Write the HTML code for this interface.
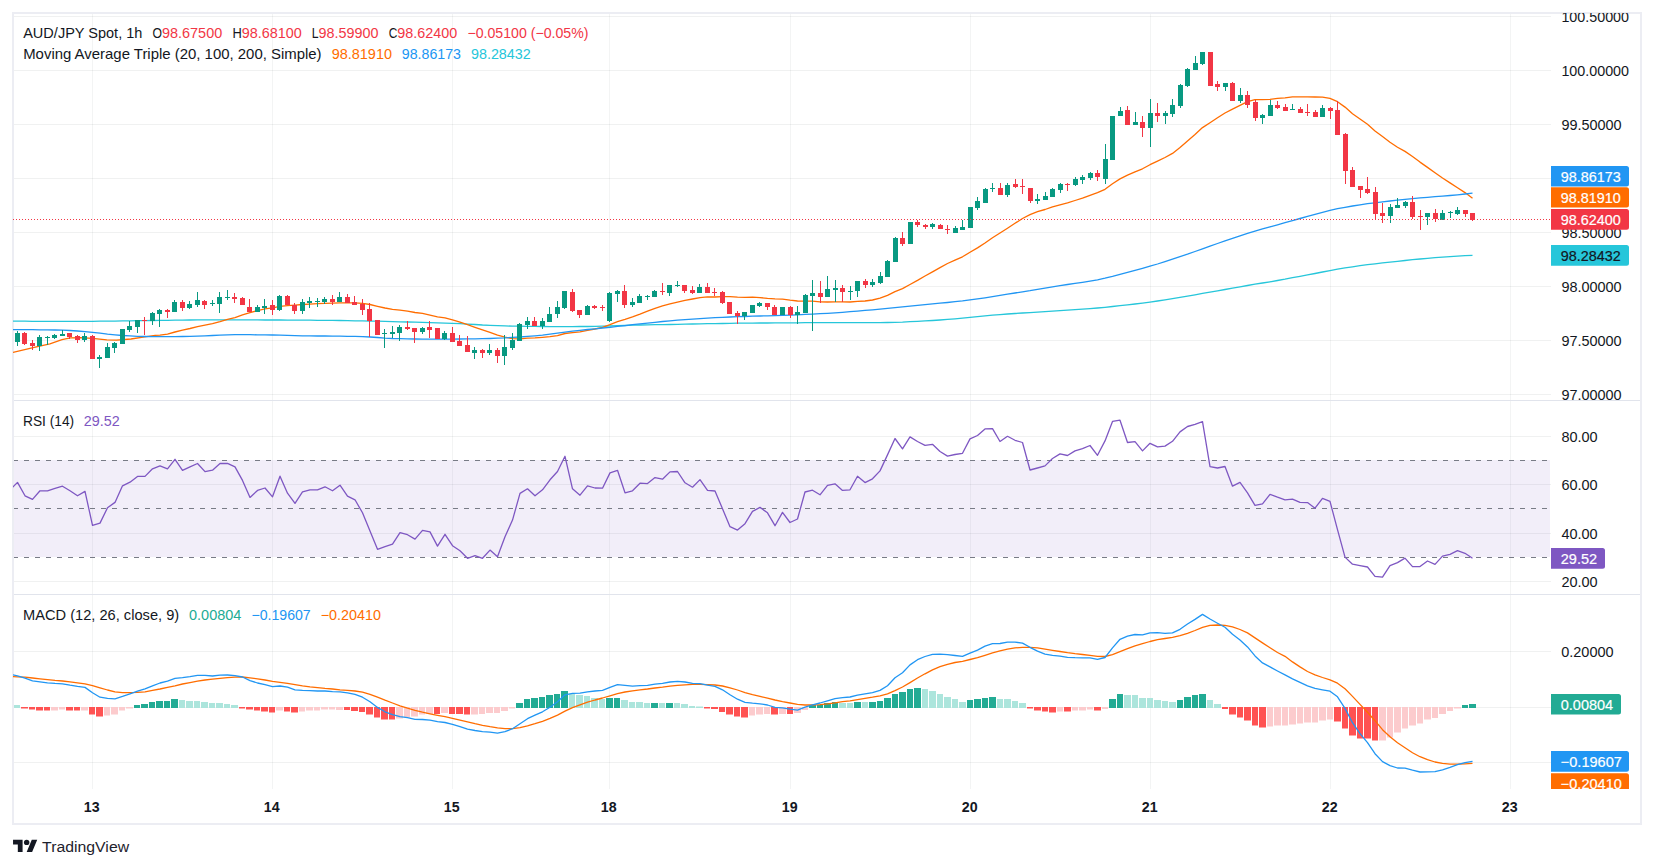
<!DOCTYPE html>
<html lang="en"><head><meta charset="utf-8"><title>AUD/JPY Spot, 1h - TradingView</title>
<style>html,body{margin:0;padding:0;background:#fff;}svg text{font-family:"Liberation Sans","DejaVu Sans",sans-serif;}body{width:1654px;height:868px;overflow:hidden;}</style></head>
<body>
<svg width="1654" height="868" viewBox="0 0 1654 868" style="display:block">
<rect width="1654" height="868" fill="#fff"/>
<defs><clipPath id="cpMain"><rect x="13" y="13" width="1538" height="387"/></clipPath><clipPath id="cpRsi"><rect x="13" y="401" width="1538" height="193"/></clipPath><clipPath id="cpMacd"><rect x="13" y="595" width="1538" height="194"/></clipPath><clipPath id="cpMacdAxis"><rect x="1551" y="595" width="90" height="194"/></clipPath><clipPath id="cpMainAxis"><rect x="1551" y="13" width="90" height="387"/></clipPath></defs>
<path d="M92.5 14V789M272.5 14V789M452.5 14V789M609.5 14V789M790.5 14V789M970.5 14V789M1150.5 14V789M1330.5 14V789M1510.5 14V789" stroke="#1c2a2a" stroke-opacity="0.05" stroke-width="1" fill="none"/>
<path d="M13 16.5H1551M13 70.5H1551M13 124.5H1551M13 178.5H1551M13 232.5H1551M13 286.5H1551M13 340.5H1551M13 394.5H1551M13 436.5H1551M13 484.5H1551M13 533.5H1551M13 581.5H1551M13 651.5H1551M13 707.5H1551M13 762.5H1551" stroke="#1c2a2a" stroke-opacity="0.065" stroke-width="1" fill="none"/>
<rect x="13" y="460" width="1537" height="97" fill="#7e57c2" fill-opacity="0.1"/>
<path d="M13 460.5H1551" stroke="#787b86" stroke-width="1" stroke-dasharray="5 6" fill="none"/>
<path d="M13 508.5H1551" stroke="#787b86" stroke-width="1" stroke-dasharray="5 6" fill="none"/>
<path d="M13 557.5H1551" stroke="#787b86" stroke-width="1" stroke-dasharray="5 6" fill="none"/>
<path d="M13 400.5H1641M13 594.5H1641" stroke="#e1e4ec" stroke-width="1" fill="none"/>
<rect x="13" y="13" width="1628" height="811" fill="none" stroke="#ecedf3" stroke-width="2"/>
<g clip-path="url(#cpRsi)">
<polyline points="10.0,489.8 17.5,482.4 25.0,495.8 32.5,499.4 40.0,490.8 47.5,490.8 55.0,488.4 62.5,486.2 70.0,490.8 77.5,495.8 85.0,491.4 92.5,525.3 100.0,523.1 107.5,507.8 115.0,502.4 122.5,485.8 130.0,482.2 137.5,476.4 145.0,476.4 152.5,468.8 160.0,465.9 167.5,468.8 175.0,459.3 182.5,470.4 190.0,466.9 197.5,463.5 205.0,471.6 212.5,470.2 220.0,463.5 227.5,463.3 235.0,466.9 242.5,480.4 250.0,497.4 257.5,490.4 265.0,488.0 272.5,496.8 280.0,476.2 287.5,493.2 295.0,503.4 302.5,491.8 310.0,489.8 317.5,489.8 325.0,486.8 332.5,490.8 340.0,485.2 347.5,496.2 355.0,499.8 362.5,512.8 370.0,531.1 377.5,549.3 385.0,546.7 392.5,544.1 400.0,532.7 407.5,534.7 415.0,539.1 422.5,530.3 430.0,531.9 437.5,546.1 445.0,534.3 452.5,545.7 460.0,550.7 467.5,558.3 475.0,555.7 482.5,558.3 490.0,550.1 497.5,556.7 505.0,536.7 512.5,520.1 520.0,493.4 527.5,488.8 535.0,495.8 542.5,489.8 550.0,479.8 557.5,471.5 565.0,456.3 572.5,488.8 580.0,495.2 587.5,485.8 595.0,488.0 602.5,488.2 610.0,472.9 617.5,470.3 625.0,492.8 632.5,490.8 640.0,483.2 647.5,483.6 655.0,477.6 662.5,479.2 670.0,471.9 677.5,471.5 685.0,482.8 692.5,487.2 700.0,479.6 707.5,490.4 715.0,491.0 722.5,508.8 730.0,526.7 737.5,530.1 745.0,523.7 752.5,511.4 760.0,507.4 767.5,512.8 775.0,525.7 782.5,512.4 790.0,522.5 797.5,519.0 805.0,492.0 812.5,490.2 820.0,494.8 827.5,485.4 835.0,483.8 842.5,490.4 850.0,489.8 857.5,476.3 865.0,482.6 872.5,478.8 880.0,470.9 887.5,454.9 895.0,438.5 902.5,448.9 910.0,436.9 917.5,441.5 925.0,445.3 932.5,444.3 940.0,451.5 947.5,456.1 955.0,454.5 962.5,453.3 970.0,438.9 977.5,435.5 985.0,428.9 992.5,428.7 1000.0,441.5 1007.5,436.3 1015.0,440.3 1022.5,442.5 1030.0,470.0 1037.5,468.0 1045.0,465.9 1052.5,458.5 1060.0,453.9 1067.5,455.5 1075.0,450.9 1082.5,448.7 1090.0,445.5 1097.5,455.3 1105.0,440.9 1112.5,421.4 1120.0,420.2 1127.5,442.5 1135.0,441.7 1142.5,450.9 1150.0,443.3 1157.5,446.9 1165.0,446.1 1172.5,441.3 1180.0,431.9 1187.5,426.5 1195.0,424.4 1202.5,421.6 1210.0,466.7 1217.5,468.0 1225.0,466.5 1232.5,486.2 1240.0,482.4 1247.5,492.8 1255.0,505.4 1262.5,503.8 1270.0,494.4 1277.5,497.2 1285.0,499.8 1292.5,499.2 1300.0,502.4 1307.5,502.6 1315.0,508.2 1322.5,498.4 1330.0,501.4 1337.5,529.7 1345.0,557.1 1352.5,564.2 1360.0,565.6 1367.5,567.0 1375.0,576.4 1382.5,577.2 1390.0,565.6 1397.5,562.6 1405.0,558.1 1412.5,566.6 1420.0,566.6 1427.5,561.0 1435.0,564.4 1442.5,556.1 1450.0,554.3 1457.5,550.7 1465.0,553.3 1472.5,558.3" fill="none" stroke="#7e57c2" stroke-width="1.3" stroke-linejoin="round"/>
</g>
<g clip-path="url(#cpMacd)">
<path d="M14 705.0H20V708.0H14zM179 700.0H185V708.0H179zM186 701.0H193V708.0H186zM194 701.0H200V708.0H194zM201 702.0H208V708.0H201zM209 703.0H215V708.0H209zM216 703.0H223V708.0H216zM224 704.0H230V708.0H224zM231 705.0H238V708.0H231zM569 694.0H575V708.0H569zM576 695.0H583V708.0H576zM584 696.0H590V708.0H584zM591 698.0H598V708.0H591zM599 699.0H605V708.0H599zM621 700.0H628V708.0H621zM629 702.0H635V708.0H629zM636 702.0H643V708.0H636zM644 703.0H650V708.0H644zM659 703.0H665V708.0H659zM674 703.0H680V708.0H674zM681 704.0H688V708.0H681zM689 706.0H695V708.0H689zM696 706.5H703V708.0H696zM839 703.0H846V708.0H839zM847 703.0H853V708.0H847zM862 702.0H868V708.0H862zM922 689.0H928V708.0H922zM929 691.0H936V708.0H929zM937 694.0H943V708.0H937zM944 697.0H951V708.0H944zM952 699.0H958V708.0H952zM959 702.0H966V708.0H959zM997 699.0H1003V708.0H997zM1004 699.0H1011V708.0H1004zM1012 701.0H1018V708.0H1012zM1019 703.0H1026V708.0H1019zM1124 695.0H1131V708.0H1124zM1132 695.0H1138V708.0H1132zM1139 698.0H1146V708.0H1139zM1147 698.0H1153V708.0H1147zM1154 700.0H1161V708.0H1154zM1162 701.0H1168V708.0H1162zM1169 702.0H1176V708.0H1169zM1207 700.0H1213V708.0H1207zM1214 704.0H1221V708.0H1214z" fill="#ace5dc"/>
<path d="M21 707.1H28V708.6H21zM29 707.0H35V709.5H29zM36 707.0H43V710.5H36zM44 707.0H50V710.5H44zM66 707.0H73V710.5H66zM74 707.0H80V710.5H74zM89 707.0H95V714.5H89zM96 707.0H103V716.5H96zM239 707.1H245V708.6H239zM246 707.0H253V709.5H246zM254 707.0H260V710.5H254zM261 707.0H268V711.5H261zM269 707.0H275V712.5H269zM284 707.0H290V711.5H284zM291 707.0H298V712.5H291zM344 707.0H350V710.0H344zM351 707.0H358V711.0H351zM359 707.0H365V712.0H359zM366 707.0H373V714.5H366zM374 707.0H380V717.5H374zM381 707.0H388V719.5H381zM389 707.0H395V719.5H389zM434 707.0H440V714.0H434zM449 707.0H455V714.0H449zM456 707.0H463V714.0H456zM464 707.0H470V714.5H464zM704 707.1H710V708.6H704zM711 707.0H718V709.0H711zM719 707.0H725V712.0H719zM726 707.0H733V714.5H726zM734 707.0H740V716.5H734zM741 707.0H748V717.5H741zM771 707.0H778V714.5H771zM787 707.0H793V714.0H787zM1027 707.1H1033V708.6H1027zM1034 707.0H1041V710.5H1034zM1042 707.0H1048V711.5H1042zM1049 707.0H1056V712.5H1049zM1064 707.0H1071V711.5H1064zM1094 707.0H1101V710.5H1094zM1222 707.0H1228V709.0H1222zM1229 707.0H1236V714.5H1229zM1237 707.0H1243V717.5H1237zM1244 707.0H1251V720.5H1244zM1252 707.0H1258V725.5H1252zM1259 707.0H1266V727.5H1259zM1334 707.0H1341V721.5H1334zM1342 707.0H1348V728.5H1342zM1349 707.0H1356V735.5H1349zM1357 707.0H1363V738.5H1357zM1364 707.0H1371V738.5H1364zM1372 707.0H1378V740.5H1372z" fill="#ff5252"/>
<path d="M51 707.0H58V710.5H51zM59 707.0H65V709.5H59zM81 707.0H88V710.5H81zM104 707.0H110V715.5H104zM111 707.0H118V714.5H111zM119 707.0H125V710.5H119zM126 707.1H133V708.6H126zM276 707.0H283V710.5H276zM299 707.0H305V711.5H299zM306 707.0H313V710.5H306zM314 707.0H320V710.5H314zM321 707.0H328V709.5H321zM329 707.0H335V709.5H329zM336 707.0H343V710.0H336zM396 707.0H403V718.5H396zM404 707.0H410V717.5H404zM411 707.0H418V716.5H411zM419 707.0H425V714.5H419zM426 707.0H433V714.0H426zM441 707.0H448V713.0H441zM471 707.0H478V714.5H471zM479 707.0H485V714.0H479zM486 707.0H493V713.0H486zM494 707.0H500V713.0H494zM501 707.0H508V711.0H501zM509 707.1H515V708.6H509zM749 707.0H755V715.5H749zM756 707.0H763V714.5H756zM764 707.0H770V714.0H764zM779 707.0H786V714.0H779zM794 707.0H801V713.0H794zM802 707.0H808V710.0H802zM1057 707.0H1063V711.5H1057zM1072 707.0H1078V710.5H1072zM1079 707.0H1086V710.5H1079zM1087 707.0H1093V709.5H1087zM1102 707.0H1108V709.0H1102zM1267 707.0H1273V726.5H1267zM1274 707.0H1281V725.5H1274zM1282 707.0H1288V725.5H1282zM1289 707.0H1296V724.5H1289zM1297 707.0H1303V723.5H1297zM1304 707.0H1311V722.5H1304zM1312 707.0H1318V722.5H1312zM1319 707.0H1326V720.5H1319zM1327 707.0H1333V719.5H1327zM1379 707.0H1386V740.5H1379zM1387 707.0H1393V737.5H1387zM1394 707.0H1401V732.5H1394zM1402 707.0H1408V728.5H1402zM1409 707.0H1416V725.5H1409zM1417 707.0H1423V723.5H1417zM1424 707.0H1431V719.5H1424zM1432 707.0H1438V718.0H1432zM1439 707.0H1446V714.0H1439zM1447 707.0H1453V711.0H1447zM1454 707.1H1461V708.6H1454z" fill="#fccbcd"/>
<path d="M134 705.0H140V708.0H134zM141 704.0H148V708.0H141zM149 702.0H155V708.0H149zM156 701.0H163V708.0H156zM164 701.0H170V708.0H164zM171 699.0H178V708.0H171zM516 703.0H523V708.0H516zM524 699.0H530V708.0H524zM531 698.0H538V708.0H531zM539 697.0H545V708.0H539zM546 695.0H553V708.0H546zM554 694.0H560V708.0H554zM561 691.0H568V708.0H561zM606 698.0H613V708.0H606zM614 698.0H620V708.0H614zM651 703.0H658V708.0H651zM666 703.0H673V708.0H666zM809 705.0H816V708.0H809zM817 705.0H823V708.0H817zM824 703.0H831V708.0H824zM832 702.0H838V708.0H832zM854 702.0H861V708.0H854zM869 702.0H876V708.0H869zM877 701.0H883V708.0H877zM884 698.0H891V708.0H884zM892 694.0H898V708.0H892zM899 692.0H906V708.0H899zM907 689.0H913V708.0H907zM914 688.0H921V708.0H914zM967 700.0H973V708.0H967zM974 699.0H981V708.0H974zM982 698.0H988V708.0H982zM989 697.0H996V708.0H989zM1109 699.0H1116V708.0H1109zM1117 694.0H1123V708.0H1117zM1177 700.0H1183V708.0H1177zM1184 697.0H1191V708.0H1184zM1192 695.0H1198V708.0H1192zM1199 694.0H1206V708.0H1199zM1462 705.0H1468V708.0H1462zM1469 704.0H1476V708.0H1469z" fill="#22ab94"/>
<polyline points="10.0,676.4 17.5,676.8 25.0,677.2 32.5,678.0 40.0,678.8 47.5,679.6 55.0,680.4 62.5,681.0 70.0,681.8 77.5,682.8 85.0,683.8 92.5,685.6 100.0,687.8 107.5,690.0 115.0,691.8 122.5,692.6 130.0,692.6 137.5,692.4 145.0,691.8 152.5,690.4 160.0,689.0 167.5,687.4 175.0,685.8 182.5,684.0 190.0,682.6 197.5,681.2 205.0,680.0 212.5,679.2 220.0,678.4 227.5,677.6 235.0,677.2 242.5,677.0 250.0,677.8 257.5,678.8 265.0,680.0 272.5,681.4 280.0,682.4 287.5,683.4 295.0,684.6 302.5,685.8 310.0,686.8 317.5,687.6 325.0,688.4 332.5,689.0 340.0,689.8 347.5,690.4 355.0,691.0 362.5,692.2 370.0,694.4 377.5,697.2 385.0,700.2 392.5,703.0 400.0,705.8 407.5,708.2 415.0,710.4 422.5,712.2 430.0,713.8 437.5,715.3 445.0,716.7 452.5,718.3 460.0,720.1 467.5,721.9 475.0,723.7 482.5,725.3 490.0,726.7 497.5,727.9 505.0,728.7 512.5,728.7 520.0,727.7 527.5,725.9 535.0,723.7 542.5,721.3 550.0,718.3 557.5,715.1 565.0,711.2 572.5,707.6 580.0,704.8 587.5,702.2 595.0,700.0 602.5,698.0 610.0,695.8 617.5,693.6 625.0,692.0 632.5,690.8 640.0,689.8 647.5,689.0 655.0,688.0 662.5,687.2 670.0,686.2 677.5,685.4 685.0,684.8 692.5,684.4 700.0,684.4 707.5,684.6 715.0,685.0 722.5,686.0 730.0,687.8 737.5,690.0 745.0,692.6 752.5,694.6 760.0,696.4 767.5,698.2 775.0,700.0 782.5,701.6 790.0,703.0 797.5,704.4 805.0,705.0 812.5,705.0 820.0,704.6 827.5,703.8 835.0,702.8 842.5,701.6 850.0,700.8 857.5,699.6 865.0,698.4 872.5,697.2 880.0,695.8 887.5,693.8 895.0,690.6 902.5,687.0 910.0,682.6 917.5,678.0 925.0,673.8 932.5,669.9 940.0,666.7 947.5,664.3 955.0,662.5 962.5,661.3 970.0,659.5 977.5,657.7 985.0,655.3 992.5,652.9 1000.0,650.9 1007.5,649.1 1015.0,647.9 1022.5,647.3 1030.0,647.3 1037.5,647.9 1045.0,649.1 1052.5,650.3 1060.0,651.5 1067.5,652.7 1075.0,653.7 1082.5,654.5 1090.0,655.3 1097.5,656.3 1105.0,656.5 1112.5,654.7 1120.0,651.7 1127.5,648.7 1135.0,645.9 1142.5,643.7 1150.0,641.5 1157.5,639.7 1165.0,638.5 1172.5,637.3 1180.0,635.7 1187.5,633.3 1195.0,630.5 1202.5,627.3 1210.0,625.4 1217.5,625.0 1225.0,625.4 1232.5,626.9 1240.0,629.5 1247.5,632.9 1255.0,637.9 1262.5,642.9 1270.0,647.7 1277.5,652.5 1285.0,656.3 1292.5,661.9 1300.0,666.9 1307.5,671.5 1315.0,674.9 1322.5,677.5 1330.0,679.8 1337.5,683.2 1345.0,688.8 1352.5,696.4 1360.0,704.4 1367.5,712.2 1375.0,720.7 1382.5,729.7 1390.0,736.7 1397.5,742.7 1405.0,747.7 1412.5,752.7 1420.0,756.7 1427.5,759.7 1435.0,762.0 1442.5,763.4 1450.0,764.2 1457.5,764.2 1465.0,763.8 1472.5,763.4" fill="none" stroke="#ff6d00" stroke-width="1.3" stroke-linejoin="round"/>
<polyline points="10.0,674.2 17.5,675.8 25.0,678.2 32.5,680.8 40.0,681.8 47.5,682.8 55.0,683.4 62.5,683.8 70.0,685.2 77.5,686.4 85.0,687.4 92.5,692.8 100.0,697.2 107.5,698.4 115.0,698.8 122.5,696.4 130.0,693.8 137.5,691.2 145.0,688.8 152.5,685.8 160.0,683.0 167.5,681.2 175.0,678.4 182.5,677.6 190.0,676.6 197.5,675.4 205.0,675.4 212.5,676.0 220.0,675.2 227.5,675.0 235.0,675.6 242.5,677.0 250.0,680.6 257.5,683.0 265.0,684.6 272.5,686.6 280.0,686.0 287.5,687.2 295.0,689.8 302.5,690.4 310.0,690.6 317.5,691.0 325.0,691.0 332.5,691.6 340.0,691.8 347.5,692.8 355.0,694.4 362.5,697.2 370.0,701.8 377.5,707.4 385.0,711.8 392.5,714.7 400.0,716.7 407.5,717.7 415.0,719.3 422.5,719.5 430.0,720.1 437.5,721.7 445.0,722.5 452.5,724.3 460.0,726.7 467.5,729.1 475.0,730.5 482.5,731.7 490.0,732.1 497.5,733.1 505.0,731.7 512.5,728.7 520.0,723.7 527.5,718.7 535.0,715.1 542.5,711.8 550.0,707.2 557.5,701.8 565.0,694.8 572.5,693.4 580.0,693.2 587.5,691.8 595.0,691.0 602.5,690.4 610.0,687.4 617.5,684.6 625.0,685.4 632.5,686.2 640.0,685.6 647.5,685.4 655.0,684.2 662.5,683.4 670.0,682.0 677.5,681.4 685.0,682.0 692.5,683.4 700.0,683.6 707.5,685.2 715.0,686.4 722.5,689.8 730.0,694.8 737.5,699.2 745.0,702.4 752.5,703.2 760.0,703.8 767.5,705.0 775.0,707.4 782.5,707.8 790.0,709.2 797.5,710.2 805.0,707.2 812.5,704.8 820.0,703.0 827.5,700.8 835.0,698.6 842.5,697.6 850.0,697.0 857.5,695.2 865.0,693.8 872.5,692.6 880.0,690.4 887.5,685.8 895.0,677.8 902.5,672.8 910.0,664.9 917.5,659.7 925.0,656.5 932.5,654.3 940.0,654.1 947.5,654.7 955.0,655.5 962.5,656.3 970.0,653.1 977.5,650.1 985.0,646.1 992.5,643.7 1000.0,643.5 1007.5,642.1 1015.0,642.1 1022.5,643.1 1030.0,647.3 1037.5,651.1 1045.0,654.1 1052.5,655.3 1060.0,656.1 1067.5,657.3 1075.0,657.7 1082.5,657.9 1090.0,657.9 1097.5,659.3 1105.0,657.5 1112.5,647.9 1120.0,639.3 1127.5,636.1 1135.0,634.5 1142.5,634.9 1150.0,632.9 1157.5,632.7 1165.0,633.3 1172.5,632.9 1180.0,629.3 1187.5,624.0 1195.0,619.4 1202.5,614.4 1210.0,619.0 1217.5,623.2 1225.0,627.3 1232.5,634.3 1240.0,639.9 1247.5,646.9 1255.0,655.9 1262.5,662.9 1270.0,666.9 1277.5,671.0 1285.0,674.9 1292.5,678.8 1300.0,682.4 1307.5,685.8 1315.0,688.4 1322.5,689.8 1330.0,691.2 1337.5,696.8 1345.0,708.4 1352.5,722.7 1360.0,733.7 1367.5,742.7 1375.0,753.7 1382.5,761.6 1390.0,765.6 1397.5,768.0 1405.0,768.2 1412.5,770.2 1420.0,772.0 1427.5,771.8 1435.0,771.6 1442.5,769.8 1450.0,767.4 1457.5,764.6 1465.0,762.6 1472.5,761.4" fill="none" stroke="#2196f3" stroke-width="1.3" stroke-linejoin="round"/>
</g>
<g clip-path="url(#cpMain)">
<polyline points="13.0,321.2 17.5,321.2 25.0,321.2 32.5,321.3 40.0,321.3 47.5,321.3 55.0,321.3 62.5,321.3 70.0,321.3 77.5,321.3 85.0,321.3 92.5,321.3 100.0,321.2 107.5,321.2 115.0,321.1 122.5,320.9 130.0,320.8 137.5,320.7 145.0,320.6 152.5,320.5 160.0,320.4 167.5,320.3 175.0,320.2 182.5,320.1 190.0,320.0 197.5,319.9 205.0,319.8 212.5,319.8 220.0,319.8 227.5,319.8 235.0,319.8 242.5,319.9 250.0,319.9 257.5,319.9 265.0,320.0 272.5,320.0 280.0,320.0 287.5,320.1 295.0,320.1 302.5,320.2 310.0,320.2 317.5,320.3 325.0,320.3 332.5,320.4 340.0,320.5 347.5,320.6 355.0,320.8 362.5,320.9 370.0,321.1 377.5,321.2 385.0,321.4 392.5,321.6 400.0,321.8 407.5,322.0 415.0,322.2 422.5,322.4 430.0,322.6 437.5,322.8 445.0,323.1 452.5,323.4 460.0,323.7 467.5,324.1 475.0,324.5 482.5,325.0 490.0,325.3 497.5,325.6 505.0,325.9 512.5,326.1 520.0,326.2 527.5,326.3 535.0,326.4 542.5,326.5 550.0,326.6 557.5,326.6 565.0,326.6 572.5,326.6 580.0,326.5 587.5,326.5 595.0,326.4 602.5,326.2 610.0,326.0 617.5,325.7 625.0,325.5 632.5,325.2 640.0,325.0 647.5,324.9 655.0,324.7 662.5,324.6 670.0,324.5 677.5,324.4 685.0,324.2 692.5,324.0 700.0,323.9 707.5,323.7 715.0,323.6 722.5,323.5 730.0,323.3 737.5,323.2 745.0,323.2 752.5,323.1 760.0,323.0 767.5,323.0 775.0,322.9 782.5,322.9 790.0,322.8 797.5,322.8 805.0,322.7 812.5,322.7 820.0,322.7 827.5,322.7 835.0,322.7 842.5,322.7 850.0,322.7 857.5,322.7 865.0,322.7 872.5,322.6 880.0,322.6 887.5,322.5 895.0,322.3 902.5,322.1 910.0,321.7 917.5,321.3 925.0,320.9 932.5,320.5 940.0,320.0 947.5,319.4 955.0,318.8 962.5,318.1 970.0,317.4 977.5,316.7 985.0,315.9 992.5,315.2 1000.0,314.6 1007.5,314.0 1015.0,313.5 1022.5,313.0 1030.0,312.6 1037.5,312.1 1045.0,311.6 1052.5,311.2 1060.0,310.7 1067.5,310.2 1075.0,309.7 1082.5,309.2 1090.0,308.6 1097.5,308.0 1105.0,307.3 1112.5,306.5 1120.0,305.7 1127.5,304.8 1135.0,304.0 1142.5,303.1 1150.0,302.1 1157.5,301.0 1165.0,299.8 1172.5,298.6 1180.0,297.3 1187.5,296.1 1195.0,294.8 1202.5,293.4 1210.0,292.1 1217.5,290.8 1225.0,289.5 1232.5,288.1 1240.0,286.8 1247.5,285.5 1255.0,284.2 1262.5,283.0 1270.0,281.8 1277.5,280.5 1285.0,279.2 1292.5,277.7 1300.0,276.3 1307.5,274.9 1315.0,273.5 1322.5,272.0 1330.0,270.6 1337.5,269.2 1345.0,267.9 1352.5,266.8 1360.0,265.7 1367.5,264.7 1375.0,263.8 1382.5,262.9 1390.0,262.1 1397.5,261.3 1405.0,260.5 1412.5,259.7 1420.0,259.0 1427.5,258.3 1435.0,257.7 1442.5,257.2 1450.0,256.7 1457.5,256.2 1465.0,255.7 1472.5,255.3" fill="none" stroke="#26c6da" stroke-width="1.3" stroke-linejoin="round"/>
<polyline points="13.0,352.4 34.2,347.4 49.9,343.8 62.0,339.6 70.5,337.8 80.0,337.6 92.3,338.4 106.8,339.9 116.5,340.2 131.0,339.0 143.1,337.2 155.2,335.3 160.0,335.2 167.5,334.1 175.0,332.0 182.5,330.1 190.0,328.5 197.5,326.6 205.0,325.1 212.5,323.6 220.0,321.6 227.5,319.4 235.0,317.6 242.5,314.9 250.0,312.6 257.5,310.6 265.0,308.8 272.5,307.8 280.0,306.3 287.5,305.6 295.0,305.1 302.5,304.5 310.0,304.1 317.5,303.6 325.0,303.4 332.5,303.1 340.0,302.8 347.5,302.9 355.0,302.9 362.5,303.3 370.0,304.5 377.5,306.3 385.0,308.0 392.5,309.4 400.0,310.1 407.5,311.2 415.0,312.5 422.5,313.4 430.0,315.1 437.5,316.8 445.0,317.9 452.5,319.9 460.0,322.2 467.5,324.7 475.0,327.3 482.5,329.8 490.0,332.4 497.5,335.1 505.0,337.2 512.5,338.7 520.0,338.9 527.5,338.2 535.0,337.9 542.5,337.3 550.0,336.7 557.5,335.6 565.0,333.5 572.5,332.7 580.0,331.9 587.5,330.3 595.0,329.0 602.5,327.3 610.0,324.6 617.5,321.6 625.0,319.3 632.5,316.8 640.0,314.1 647.5,311.1 655.0,308.3 662.5,305.9 670.0,303.9 677.5,302.1 685.0,300.4 692.5,299.0 700.0,297.6 707.5,296.9 715.0,297.0 722.5,296.6 730.0,296.6 737.5,297.1 745.0,297.3 752.5,297.1 760.0,297.6 767.5,298.4 775.0,298.9 782.5,299.2 790.0,300.2 797.5,301.0 805.0,301.2 812.5,301.2 820.0,301.8 827.5,302.0 835.0,301.9 842.5,301.8 850.0,302.0 857.5,301.4 865.0,301.0 872.5,300.0 880.0,298.1 887.5,295.3 895.0,291.6 902.5,288.6 910.0,284.5 917.5,280.4 925.0,276.0 932.5,271.9 940.0,267.6 947.5,263.5 955.0,260.1 962.5,256.8 970.0,252.3 977.5,247.9 985.0,243.0 992.5,237.8 1000.0,233.0 1007.5,228.2 1015.0,223.3 1022.5,218.5 1030.0,214.7 1037.5,211.6 1045.0,209.5 1052.5,206.8 1060.0,204.9 1067.5,202.9 1075.0,200.5 1082.5,198.2 1090.0,195.4 1097.5,192.7 1105.0,189.3 1112.5,183.7 1120.0,178.9 1127.5,175.1 1135.0,171.8 1142.5,168.8 1150.0,164.7 1157.5,161.2 1165.0,157.5 1172.5,153.4 1180.0,147.6 1187.5,141.1 1195.0,134.5 1202.5,127.6 1210.0,122.7 1217.5,117.8 1225.0,113.0 1232.5,109.2 1240.0,105.3 1247.5,101.7 1255.0,99.6 1262.5,99.6 1270.0,99.3 1277.5,98.4 1285.0,97.9 1292.5,96.9 1300.0,96.9 1307.5,96.8 1315.0,97.0 1322.5,97.1 1330.0,98.4 1337.5,101.7 1345.0,107.1 1352.5,113.8 1360.0,119.0 1367.5,124.3 1375.0,130.9 1382.5,136.6 1390.0,142.2 1397.5,147.2 1405.0,151.4 1412.5,156.5 1420.0,162.1 1427.5,167.4 1435.0,172.8 1442.5,178.0 1450.0,182.9 1457.5,187.8 1465.0,192.6 1472.5,198.2" fill="none" stroke="#ff6d00" stroke-width="1.3" stroke-linejoin="round"/>
<polyline points="13.0,329.6 17.5,329.6 25.0,329.6 32.5,329.7 40.0,329.8 47.5,329.9 55.0,330.0 62.5,330.2 70.0,330.5 77.5,331.0 85.0,331.7 92.5,332.4 100.0,333.2 107.5,334.1 115.0,334.8 122.5,335.5 130.0,335.9 137.5,336.3 145.0,336.5 152.5,336.6 160.0,336.7 167.5,336.7 175.0,336.7 182.5,336.5 190.0,336.3 197.5,336.1 205.0,335.8 212.5,335.5 220.0,335.2 227.5,334.9 235.0,334.7 242.5,334.7 250.0,334.7 257.5,334.8 265.0,334.9 272.5,335.0 280.0,335.2 287.5,335.4 295.0,335.6 302.5,335.8 310.0,335.9 317.5,336.0 325.0,336.0 332.5,336.1 340.0,336.2 347.5,336.3 355.0,336.4 362.5,336.6 370.0,337.0 377.5,337.5 385.0,338.1 392.5,338.5 400.0,338.7 407.5,338.9 415.0,339.0 422.5,339.1 430.0,339.2 437.5,339.2 445.0,339.1 452.5,339.1 460.0,339.0 467.5,338.9 475.0,338.8 482.5,338.7 490.0,338.5 497.5,338.2 505.0,337.9 512.5,337.4 520.0,337.0 527.5,336.4 535.0,335.8 542.5,335.1 550.0,334.2 557.5,333.2 565.0,332.2 572.5,331.2 580.0,330.4 587.5,329.5 595.0,328.8 602.5,328.0 610.0,327.3 617.5,326.4 625.0,325.6 632.5,324.7 640.0,323.9 647.5,323.1 655.0,322.3 662.5,321.5 670.0,320.8 677.5,320.2 685.0,319.6 692.5,319.1 700.0,318.6 707.5,318.1 715.0,317.7 722.5,317.4 730.0,317.0 737.5,316.7 745.0,316.5 752.5,316.2 760.0,316.0 767.5,315.8 775.0,315.6 782.5,315.3 790.0,315.1 797.5,314.8 805.0,314.4 812.5,314.1 820.0,313.7 827.5,313.3 835.0,312.8 842.5,312.3 850.0,311.7 857.5,311.1 865.0,310.4 872.5,309.8 880.0,309.1 887.5,308.4 895.0,307.7 902.5,306.9 910.0,306.2 917.5,305.4 925.0,304.6 932.5,303.9 940.0,303.2 947.5,302.5 955.0,301.7 962.5,300.9 970.0,299.9 977.5,298.9 985.0,297.8 992.5,296.6 1000.0,295.4 1007.5,294.2 1015.0,293.0 1022.5,291.8 1030.0,290.7 1037.5,289.4 1045.0,288.1 1052.5,286.9 1060.0,285.6 1067.5,284.5 1075.0,283.4 1082.5,282.3 1090.0,281.1 1097.5,279.8 1105.0,278.2 1112.5,276.4 1120.0,274.4 1127.5,272.4 1135.0,270.4 1142.5,268.3 1150.0,266.2 1157.5,264.0 1165.0,261.6 1172.5,259.2 1180.0,256.7 1187.5,254.2 1195.0,251.5 1202.5,248.8 1210.0,246.1 1217.5,243.5 1225.0,240.8 1232.5,238.3 1240.0,235.8 1247.5,233.4 1255.0,231.1 1262.5,228.9 1270.0,226.8 1277.5,224.8 1285.0,222.7 1292.5,220.6 1300.0,218.5 1307.5,216.4 1315.0,214.3 1322.5,212.3 1330.0,210.4 1337.5,208.7 1345.0,207.3 1352.5,206.0 1360.0,204.8 1367.5,203.7 1375.0,202.8 1382.5,201.8 1390.0,201.0 1397.5,200.2 1405.0,199.4 1412.5,198.6 1420.0,197.9 1427.5,197.3 1435.0,196.7 1442.5,196.1 1450.0,195.5 1457.5,194.8 1465.0,194.0 1472.5,193.2" fill="none" stroke="#2196f3" stroke-width="1.3" stroke-linejoin="round"/>
<path d="M15 333h5V342h-5zM17 331h1V333h-1zM17 342h1V346h-1zM37 337h5V346h-5zM39 335h1V337h-1zM39 346h1V351h-1zM45 337h5V338h-5zM47 336h1V337h-1zM47 338h1V345h-1zM52 335h5V338h-5zM54 334h1V335h-1zM54 338h1V339h-1zM60 334h5V336h-5zM62 330h1V334h-1zM82 336h5V340h-5zM84 333h1V336h-1zM84 340h1V342h-1zM97 357h5V359h-5zM99 355h1V357h-1zM99 359h1V368h-1zM105 347h5V358h-5zM107 343h1V347h-1zM112 343h5V348h-5zM114 342h1V343h-1zM114 348h1V353h-1zM120 329h5V344h-5zM127 326h5V330h-5zM129 321h1V326h-1zM129 330h1V332h-1zM135 320h5V327h-5zM137 327h1V333h-1zM150 313h5V321h-5zM152 312h1V313h-1zM152 321h1V325h-1zM157 310h5V314h-5zM159 309h1V310h-1zM159 314h1V327h-1zM172 302h5V312h-5zM174 300h1V302h-1zM187 304h5V308h-5zM189 301h1V304h-1zM189 308h1V309h-1zM195 300h5V305h-5zM197 292h1V300h-1zM197 305h1V307h-1zM210 303h5V304h-5zM212 300h1V303h-1zM212 304h1V306h-1zM217 297h5V304h-5zM219 292h1V297h-1zM219 304h1V313h-1zM225 297h5V298h-5zM227 290h1V297h-1zM227 298h1V300h-1zM255 307h5V312h-5zM257 305h1V307h-1zM262 306h5V308h-5zM264 299h1V306h-1zM264 308h1V314h-1zM277 296h5V310h-5zM279 295h1V296h-1zM279 310h1V311h-1zM300 302h5V311h-5zM302 299h1V302h-1zM302 311h1V314h-1zM307 301h5V303h-5zM309 297h1V301h-1zM309 303h1V308h-1zM315 301h5V302h-5zM317 298h1V301h-1zM317 302h1V307h-1zM322 299h5V302h-5zM324 297h1V299h-1zM324 302h1V304h-1zM337 297h5V302h-5zM339 292h1V297h-1zM382 333h5V334h-5zM384 329h1V333h-1zM384 334h1V348h-1zM390 332h5V334h-5zM392 326h1V332h-1zM392 334h1V338h-1zM397 327h5V333h-5zM399 325h1V327h-1zM399 333h1V341h-1zM420 328h5V332h-5zM422 327h1V328h-1zM422 332h1V334h-1zM442 333h5V339h-5zM444 331h1V333h-1zM444 339h1V340h-1zM472 350h5V353h-5zM474 347h1V350h-1zM474 353h1V359h-1zM487 350h5V353h-5zM489 344h1V350h-1zM489 353h1V355h-1zM502 347h5V356h-5zM504 335h1V347h-1zM504 356h1V365h-1zM510 340h5V348h-5zM512 333h1V340h-1zM512 348h1V350h-1zM517 324h5V341h-5zM519 323h1V324h-1zM525 321h5V325h-5zM527 317h1V321h-1zM527 325h1V329h-1zM540 321h5V326h-5zM542 318h1V321h-1zM542 326h1V329h-1zM547 314h5V322h-5zM549 307h1V314h-1zM555 307h5V314h-5zM557 301h1V307h-1zM557 314h1V318h-1zM562 291h5V308h-5zM564 308h1V309h-1zM585 306h5V315h-5zM587 305h1V306h-1zM607 293h5V321h-5zM609 292h1V293h-1zM609 321h1V322h-1zM615 291h5V294h-5zM617 290h1V291h-1zM617 294h1V302h-1zM630 302h5V305h-5zM632 298h1V302h-1zM632 305h1V307h-1zM637 296h5V303h-5zM639 294h1V296h-1zM645 296h5V297h-5zM647 295h1V296h-1zM647 297h1V300h-1zM652 291h5V297h-5zM654 290h1V291h-1zM667 285h5V293h-5zM669 293h1V296h-1zM675 285h5V286h-5zM677 281h1V285h-1zM677 286h1V287h-1zM697 287h5V293h-5zM699 284h1V287h-1zM742 312h5V316h-5zM744 316h1V320h-1zM750 305h5V313h-5zM757 303h5V306h-5zM759 302h1V303h-1zM759 306h1V307h-1zM780 307h5V315h-5zM795 312h5V315h-5zM797 306h1V312h-1zM797 315h1V324h-1zM803 295h5V313h-5zM805 294h1V295h-1zM810 293h5V296h-5zM812 280h1V293h-1zM812 296h1V331h-1zM825 289h5V297h-5zM827 276h1V289h-1zM833 288h5V290h-5zM835 280h1V288h-1zM835 290h1V302h-1zM848 291h5V292h-5zM850 286h1V291h-1zM850 292h1V300h-1zM855 281h5V291h-5zM857 291h1V297h-1zM870 282h5V285h-5zM872 279h1V282h-1zM872 285h1V287h-1zM878 276h5V283h-5zM880 272h1V276h-1zM880 283h1V284h-1zM885 261h5V277h-5zM887 260h1V261h-1zM893 238h5V262h-5zM895 237h1V238h-1zM908 222h5V244h-5zM930 224h5V227h-5zM932 223h1V224h-1zM932 227h1V229h-1zM953 228h5V233h-5zM955 226h1V228h-1zM960 227h5V230h-5zM962 220h1V227h-1zM968 207h5V228h-5zM975 201h5V208h-5zM977 197h1V201h-1zM977 208h1V210h-1zM983 189h5V203h-5zM985 188h1V189h-1zM990 188h5V189h-5zM992 183h1V188h-1zM992 189h1V192h-1zM1005 185h5V195h-5zM1007 183h1V185h-1zM1007 195h1V197h-1zM1035 199h5V201h-5zM1037 194h1V199h-1zM1037 201h1V204h-1zM1043 196h5V200h-5zM1045 192h1V196h-1zM1050 189h5V197h-5zM1052 188h1V189h-1zM1058 184h5V190h-5zM1060 183h1V184h-1zM1060 190h1V193h-1zM1073 179h5V185h-5zM1075 177h1V179h-1zM1075 185h1V186h-1zM1080 177h5V180h-5zM1082 175h1V177h-1zM1082 180h1V184h-1zM1088 173h5V178h-5zM1090 172h1V173h-1zM1090 178h1V180h-1zM1103 159h5V179h-5zM1105 144h1V159h-1zM1105 179h1V184h-1zM1110 116h5V160h-5zM1118 111h5V116h-5zM1120 107h1V111h-1zM1133 122h5V125h-5zM1135 112h1V122h-1zM1148 113h5V128h-5zM1150 99h1V113h-1zM1150 128h1V147h-1zM1163 113h5V116h-5zM1165 111h1V113h-1zM1165 116h1V124h-1zM1170 105h5V114h-5zM1172 99h1V105h-1zM1172 114h1V117h-1zM1178 85h5V106h-5zM1180 84h1V85h-1zM1180 106h1V108h-1zM1185 69h5V86h-5zM1187 68h1V69h-1zM1187 86h1V87h-1zM1193 63h5V70h-5zM1195 56h1V63h-1zM1200 52h5V64h-5zM1202 64h1V65h-1zM1223 83h5V87h-5zM1225 87h1V91h-1zM1238 95h5V101h-5zM1240 88h1V95h-1zM1240 101h1V103h-1zM1260 115h5V118h-5zM1262 114h1V115h-1zM1262 118h1V124h-1zM1268 105h5V116h-5zM1270 100h1V105h-1zM1290 109h5V110h-5zM1292 104h1V109h-1zM1320 108h5V117h-5zM1322 105h1V108h-1zM1388 207h5V216h-5zM1390 204h1V207h-1zM1390 216h1V223h-1zM1395 205h5V208h-5zM1397 198h1V205h-1zM1403 202h5V206h-5zM1405 201h1V202h-1zM1405 206h1V208h-1zM1425 213h5V217h-5zM1427 217h1V225h-1zM1440 213h5V220h-5zM1442 210h1V213h-1zM1448 212h5V213h-5zM1450 211h1V212h-1zM1450 213h1V218h-1zM1455 210h5V214h-5zM1457 207h1V210h-1zM1457 214h1V215h-1z" fill="#089981"/>
<path d="M22 333h5V344h-5zM24 332h1V333h-1zM24 344h1V345h-1zM30 343h5V346h-5zM32 340h1V343h-1zM32 346h1V350h-1zM67 333h5V337h-5zM69 337h1V339h-1zM75 336h5V340h-5zM77 335h1V336h-1zM77 340h1V343h-1zM90 336h5V359h-5zM92 335h1V336h-1zM142 320h5V321h-5zM144 317h1V320h-1zM144 321h1V335h-1zM165 310h5V312h-5zM167 309h1V310h-1zM167 312h1V318h-1zM180 302h5V308h-5zM182 300h1V302h-1zM182 308h1V311h-1zM202 301h5V305h-5zM204 300h1V301h-1zM204 305h1V309h-1zM232 297h5V299h-5zM234 293h1V297h-1zM234 299h1V303h-1zM240 298h5V305h-5zM242 297h1V298h-1zM247 307h5V312h-5zM249 299h1V307h-1zM270 305h5V310h-5zM272 300h1V305h-1zM272 310h1V315h-1zM285 296h5V305h-5zM287 295h1V296h-1zM292 305h5V311h-5zM294 303h1V305h-1zM294 311h1V314h-1zM330 299h5V302h-5zM332 295h1V299h-1zM332 302h1V305h-1zM345 297h5V303h-5zM347 294h1V297h-1zM352 302h5V305h-5zM354 296h1V302h-1zM360 304h5V310h-5zM362 299h1V304h-1zM362 310h1V315h-1zM367 309h5V321h-5zM369 303h1V309h-1zM369 321h1V337h-1zM375 320h5V335h-5zM405 327h5V329h-5zM407 321h1V327h-1zM407 329h1V330h-1zM412 328h5V332h-5zM414 332h1V343h-1zM427 327h5V330h-5zM429 321h1V327h-1zM429 330h1V338h-1zM435 328h5V339h-5zM450 333h5V342h-5zM452 327h1V333h-1zM457 341h5V346h-5zM459 335h1V341h-1zM465 345h5V352h-5zM467 336h1V345h-1zM480 350h5V353h-5zM482 349h1V350h-1zM482 353h1V358h-1zM495 350h5V356h-5zM497 348h1V350h-1zM497 356h1V363h-1zM532 321h5V326h-5zM534 317h1V321h-1zM570 292h5V311h-5zM572 289h1V292h-1zM572 311h1V312h-1zM577 310h5V315h-5zM579 315h1V318h-1zM592 306h5V308h-5zM594 305h1V306h-1zM594 308h1V309h-1zM600 307h5V308h-5zM602 305h1V307h-1zM602 308h1V311h-1zM622 291h5V305h-5zM624 285h1V291h-1zM624 305h1V308h-1zM660 291h5V292h-5zM662 283h1V291h-1zM662 292h1V295h-1zM682 285h5V291h-5zM684 291h1V293h-1zM690 290h5V293h-5zM692 286h1V290h-1zM692 293h1V294h-1zM705 287h5V293h-5zM707 283h1V287h-1zM712 292h5V293h-5zM714 288h1V292h-1zM714 293h1V296h-1zM720 292h5V303h-5zM722 291h1V292h-1zM722 303h1V304h-1zM727 302h5V314h-5zM735 313h5V316h-5zM737 311h1V313h-1zM737 316h1V324h-1zM765 303h5V307h-5zM767 307h1V310h-1zM772 307h5V315h-5zM774 305h1V307h-1zM788 307h5V315h-5zM790 306h1V307h-1zM790 315h1V318h-1zM818 293h5V297h-5zM820 281h1V293h-1zM820 297h1V303h-1zM840 288h5V292h-5zM842 285h1V288h-1zM842 292h1V302h-1zM863 281h5V285h-5zM865 279h1V281h-1zM865 285h1V288h-1zM900 238h5V244h-5zM902 232h1V238h-1zM902 244h1V246h-1zM915 222h5V225h-5zM917 220h1V222h-1zM917 225h1V227h-1zM923 225h5V227h-5zM925 224h1V225h-1zM925 227h1V229h-1zM938 225h5V229h-5zM940 224h1V225h-1zM945 229h5V230h-5zM947 225h1V229h-1zM947 230h1V234h-1zM998 188h5V195h-5zM1000 183h1V188h-1zM1013 184h5V187h-5zM1015 179h1V184h-1zM1015 187h1V188h-1zM1020 186h5V187h-5zM1022 179h1V186h-1zM1022 187h1V194h-1zM1028 188h5V201h-5zM1030 201h1V203h-1zM1065 184h5V185h-5zM1067 183h1V184h-1zM1067 185h1V191h-1zM1095 173h5V177h-5zM1097 170h1V173h-1zM1097 177h1V181h-1zM1125 110h5V125h-5zM1127 106h1V110h-1zM1140 122h5V128h-5zM1142 116h1V122h-1zM1142 128h1V137h-1zM1155 113h5V116h-5zM1157 103h1V113h-1zM1157 116h1V122h-1zM1208 52h5V86h-5zM1215 84h5V87h-5zM1217 81h1V84h-1zM1217 87h1V91h-1zM1230 83h5V101h-5zM1232 82h1V83h-1zM1245 95h5V105h-5zM1247 91h1V95h-1zM1247 105h1V108h-1zM1253 102h5V118h-5zM1255 100h1V102h-1zM1255 118h1V121h-1zM1275 105h5V108h-5zM1277 101h1V105h-1zM1277 108h1V109h-1zM1283 107h5V111h-5zM1285 104h1V107h-1zM1298 109h5V113h-5zM1300 107h1V109h-1zM1305 112h5V113h-5zM1307 104h1V112h-1zM1307 113h1V116h-1zM1313 112h5V117h-5zM1315 110h1V112h-1zM1328 108h5V111h-5zM1330 107h1V108h-1zM1330 111h1V119h-1zM1335 110h5V135h-5zM1337 101h1V110h-1zM1343 134h5V171h-5zM1345 133h1V134h-1zM1345 171h1V184h-1zM1350 170h5V187h-5zM1352 167h1V170h-1zM1358 186h5V190h-5zM1360 190h1V198h-1zM1365 189h5V193h-5zM1367 177h1V189h-1zM1367 193h1V194h-1zM1373 192h5V214h-5zM1375 187h1V192h-1zM1375 214h1V220h-1zM1380 213h5V216h-5zM1382 203h1V213h-1zM1382 216h1V223h-1zM1410 202h5V217h-5zM1412 196h1V202h-1zM1412 217h1V219h-1zM1418 216h5V217h-5zM1420 210h1V216h-1zM1420 217h1V230h-1zM1433 213h5V219h-5zM1435 209h1V213h-1zM1435 219h1V222h-1zM1463 210h5V214h-5zM1465 214h1V217h-1zM1470 213h5V220h-5zM1472 220h1V221h-1z" fill="#f23645"/>
</g>
<path d="M13 219.5H1551" stroke="#f23645" stroke-width="1" stroke-dasharray="1 2" fill="none"/>
<g clip-path="url(#cpMainAxis)">
<text x="1561.4" y="21.8" font-size="14.8" fill="#131722" font-weight="normal" text-anchor="start" textLength="67.6" lengthAdjust="spacingAndGlyphs">100.50000</text>
<text x="1561.4" y="75.8" font-size="14.8" fill="#131722" font-weight="normal" text-anchor="start" textLength="67.6" lengthAdjust="spacingAndGlyphs">100.00000</text>
<text x="1561.4" y="129.8" font-size="14.8" fill="#131722" font-weight="normal" text-anchor="start" textLength="60.2" lengthAdjust="spacingAndGlyphs">99.50000</text>
<text x="1561.4" y="183.8" font-size="14.8" fill="#131722" font-weight="normal" text-anchor="start" textLength="60.2" lengthAdjust="spacingAndGlyphs">99.00000</text>
<text x="1561.4" y="237.8" font-size="14.8" fill="#131722" font-weight="normal" text-anchor="start" textLength="60.2" lengthAdjust="spacingAndGlyphs">98.50000</text>
<text x="1561.4" y="291.8" font-size="14.8" fill="#131722" font-weight="normal" text-anchor="start" textLength="60.2" lengthAdjust="spacingAndGlyphs">98.00000</text>
<text x="1561.4" y="345.8" font-size="14.8" fill="#131722" font-weight="normal" text-anchor="start" textLength="60.2" lengthAdjust="spacingAndGlyphs">97.50000</text>
<text x="1561.4" y="399.8" font-size="14.8" fill="#131722" font-weight="normal" text-anchor="start" textLength="60.2" lengthAdjust="spacingAndGlyphs">97.00000</text>
</g>
<text x="1561.4" y="441.8" font-size="14.8" fill="#131722" font-weight="normal" text-anchor="start" textLength="36.2" lengthAdjust="spacingAndGlyphs">80.00</text>
<text x="1561.4" y="489.8" font-size="14.8" fill="#131722" font-weight="normal" text-anchor="start" textLength="36.2" lengthAdjust="spacingAndGlyphs">60.00</text>
<text x="1561.4" y="538.8" font-size="14.8" fill="#131722" font-weight="normal" text-anchor="start" textLength="36.2" lengthAdjust="spacingAndGlyphs">40.00</text>
<text x="1561.4" y="586.8" font-size="14.8" fill="#131722" font-weight="normal" text-anchor="start" textLength="36.2" lengthAdjust="spacingAndGlyphs">20.00</text>
<text x="1561.2" y="656.8" font-size="14.8" fill="#131722" font-weight="normal" text-anchor="start" textLength="52.4" lengthAdjust="spacingAndGlyphs">0.20000</text>
<g>
<path d="M1551 165.9h75.5a2.5 2.5 0 0 1 2.5 2.5v15.600000000000001a2.5 2.5 0 0 1 -2.5 2.5h-75.5z" fill="#2196f3"/>
<text x="1560.8" y="181.5" font-size="14.8" fill="#fff" textLength="60" lengthAdjust="spacingAndGlyphs" stroke="#fff" stroke-width="0.2">98.86173</text>
</g>
<g>
<path d="M1551 187.3h75.5a2.5 2.5 0 0 1 2.5 2.5v15.3a2.5 2.5 0 0 1 -2.5 2.5h-75.5z" fill="#ff6d00"/>
<text x="1560.8" y="202.8" font-size="14.8" fill="#fff" textLength="60" lengthAdjust="spacingAndGlyphs" stroke="#fff" stroke-width="0.2">98.81910</text>
</g>
<g>
<path d="M1551 209.1h75.5a2.5 2.5 0 0 1 2.5 2.5v15.7a2.5 2.5 0 0 1 -2.5 2.5h-75.5z" fill="#f23645"/>
<text x="1560.8" y="224.8" font-size="14.8" fill="#fff" textLength="60" lengthAdjust="spacingAndGlyphs" stroke="#fff" stroke-width="0.2">98.62400</text>
</g>
<g>
<path d="M1551 245.1h75.5a2.5 2.5 0 0 1 2.5 2.5v15.600000000000001a2.5 2.5 0 0 1 -2.5 2.5h-75.5z" fill="#26c6da"/>
<text x="1560.8" y="260.7" font-size="14.8" fill="#131722" textLength="60" lengthAdjust="spacingAndGlyphs" stroke="#131722" stroke-width="0.2">98.28432</text>
</g>
<g>
<path d="M1551 548.1h51.5a2.5 2.5 0 0 1 2.5 2.5v15.600000000000001a2.5 2.5 0 0 1 -2.5 2.5h-51.5z" fill="#7e57c2"/>
<text x="1560.8" y="563.7" font-size="14.8" fill="#fff" textLength="36.3" lengthAdjust="spacingAndGlyphs" stroke="#fff" stroke-width="0.2">29.52</text>
</g>
<g>
<path d="M1551 694.0h67.5a2.5 2.5 0 0 1 2.5 2.5v15.5a2.5 2.5 0 0 1 -2.5 2.5h-67.5z" fill="#22ab94"/>
<text x="1560.8" y="709.5" font-size="14.8" fill="#fff" textLength="52.3" lengthAdjust="spacingAndGlyphs" stroke="#fff" stroke-width="0.2">0.00804</text>
</g>
<g>
<path d="M1551 750.9h75.5a2.5 2.5 0 0 1 2.5 2.5v15.8a2.5 2.5 0 0 1 -2.5 2.5h-75.5z" fill="#2196f3"/>
<text x="1560.8" y="766.6" font-size="14.8" fill="#fff" textLength="61" lengthAdjust="spacingAndGlyphs" stroke="#fff" stroke-width="0.2">−0.19607</text>
</g>
<g clip-path="url(#cpMacdAxis)">
<path d="M1551 773.3h75.5a2.5 2.5 0 0 1 2.5 2.5v15.8a2.5 2.5 0 0 1 -2.5 2.5h-75.5z" fill="#ff6d00"/>
<text x="1560.8" y="789.0" font-size="14.8" fill="#fff" textLength="61" lengthAdjust="spacingAndGlyphs" stroke="#fff" stroke-width="0.2">−0.20410</text>
</g>
<text x="91.7" y="812.2" font-size="15" fill="#131722" font-weight="bold" text-anchor="middle" textLength="15.8" lengthAdjust="spacingAndGlyphs">13</text>
<text x="271.7" y="812.2" font-size="15" fill="#131722" font-weight="bold" text-anchor="middle" textLength="15.8" lengthAdjust="spacingAndGlyphs">14</text>
<text x="451.7" y="812.2" font-size="15" fill="#131722" font-weight="bold" text-anchor="middle" textLength="15.8" lengthAdjust="spacingAndGlyphs">15</text>
<text x="608.7" y="812.2" font-size="15" fill="#131722" font-weight="bold" text-anchor="middle" textLength="15.8" lengthAdjust="spacingAndGlyphs">18</text>
<text x="789.7" y="812.2" font-size="15" fill="#131722" font-weight="bold" text-anchor="middle" textLength="15.8" lengthAdjust="spacingAndGlyphs">19</text>
<text x="969.7" y="812.2" font-size="15" fill="#131722" font-weight="bold" text-anchor="middle" textLength="15.8" lengthAdjust="spacingAndGlyphs">20</text>
<text x="1149.7" y="812.2" font-size="15" fill="#131722" font-weight="bold" text-anchor="middle" textLength="15.8" lengthAdjust="spacingAndGlyphs">21</text>
<text x="1329.7" y="812.2" font-size="15" fill="#131722" font-weight="bold" text-anchor="middle" textLength="15.8" lengthAdjust="spacingAndGlyphs">22</text>
<text x="1509.7" y="812.2" font-size="15" fill="#131722" font-weight="bold" text-anchor="middle" textLength="15.8" lengthAdjust="spacingAndGlyphs">23</text>
<text x="23.2" y="37.7" font-size="14.3" fill="#131722" font-weight="normal" text-anchor="start" textLength="119.2" lengthAdjust="spacingAndGlyphs">AUD/JPY Spot, 1h</text>
<text x="152.5" y="37.7" font-size="14.3" fill="#131722" font-weight="normal" text-anchor="start" textLength="9.5" lengthAdjust="spacingAndGlyphs">O</text>
<text x="162" y="37.7" font-size="14.3" fill="#f23645" font-weight="normal" text-anchor="start" textLength="60.2" lengthAdjust="spacingAndGlyphs">98.67500</text>
<text x="232.4" y="37.7" font-size="14.3" fill="#131722" font-weight="normal" text-anchor="start" textLength="9.3" lengthAdjust="spacingAndGlyphs">H</text>
<text x="241.7" y="37.7" font-size="14.3" fill="#f23645" font-weight="normal" text-anchor="start" textLength="60" lengthAdjust="spacingAndGlyphs">98.68100</text>
<text x="311.8" y="37.7" font-size="14.3" fill="#131722" font-weight="normal" text-anchor="start" textLength="6.8" lengthAdjust="spacingAndGlyphs">L</text>
<text x="318.6" y="37.7" font-size="14.3" fill="#f23645" font-weight="normal" text-anchor="start" textLength="59.9" lengthAdjust="spacingAndGlyphs">98.59900</text>
<text x="388.7" y="37.7" font-size="14.3" fill="#131722" font-weight="normal" text-anchor="start" textLength="8.6" lengthAdjust="spacingAndGlyphs">C</text>
<text x="397.3" y="37.7" font-size="14.3" fill="#f23645" font-weight="normal" text-anchor="start" textLength="59.9" lengthAdjust="spacingAndGlyphs">98.62400</text>
<text x="467.4" y="37.7" font-size="14.3" fill="#f23645" font-weight="normal" text-anchor="start" textLength="121.1" lengthAdjust="spacingAndGlyphs">−0.05100 (−0.05%)</text>
<text x="23.2" y="58.6" font-size="14.3" fill="#131722" font-weight="normal" text-anchor="start" textLength="298.4" lengthAdjust="spacingAndGlyphs">Moving Average Triple (20, 100, 200, Simple)</text>
<text x="331.7" y="58.6" font-size="14.3" fill="#ff6d00" font-weight="normal" text-anchor="start" textLength="60.3" lengthAdjust="spacingAndGlyphs">98.81910</text>
<text x="401.8" y="58.6" font-size="14.3" fill="#2196f3" font-weight="normal" text-anchor="start" textLength="59.2" lengthAdjust="spacingAndGlyphs">98.86173</text>
<text x="471" y="58.6" font-size="14.3" fill="#26c6da" font-weight="normal" text-anchor="start" textLength="59.7" lengthAdjust="spacingAndGlyphs">98.28432</text>
<text x="23" y="425.6" font-size="14.3" fill="#131722" font-weight="normal" text-anchor="start" textLength="51.2" lengthAdjust="spacingAndGlyphs">RSI (14)</text>
<text x="83.8" y="425.6" font-size="14.3" fill="#7e57c2" font-weight="normal" text-anchor="start" textLength="35.9" lengthAdjust="spacingAndGlyphs">29.52</text>
<text x="23" y="620" font-size="14.3" fill="#131722" font-weight="normal" text-anchor="start" textLength="156.2" lengthAdjust="spacingAndGlyphs">MACD (12, 26, close, 9)</text>
<text x="189" y="620" font-size="14.3" fill="#22ab94" font-weight="normal" text-anchor="start" textLength="52.4" lengthAdjust="spacingAndGlyphs">0.00804</text>
<text x="251.4" y="620" font-size="14.3" fill="#2196f3" font-weight="normal" text-anchor="start" textLength="59.3" lengthAdjust="spacingAndGlyphs">−0.19607</text>
<text x="320.7" y="620" font-size="14.3" fill="#ff6d00" font-weight="normal" text-anchor="start" textLength="60.2" lengthAdjust="spacingAndGlyphs">−0.20410</text>
<g transform="translate(13.05 836.95) scale(0.681)" fill="#131722"><path d="M14 22H7V11H0V4h14v18zM28 22h-8l7.5-18h8L28 22z"/><circle cx="20" cy="8" r="4"/></g>
<text x="42.1" y="851.6" font-size="14.7" fill="#1e222d" textLength="87" lengthAdjust="spacingAndGlyphs">TradingView</text>
</svg>
</body></html>
